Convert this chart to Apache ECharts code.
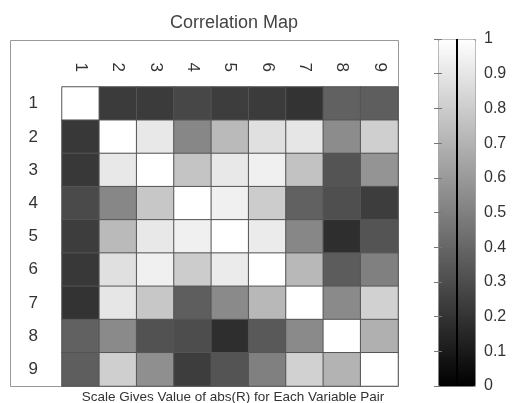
<!DOCTYPE html>
<html>
<head>
<meta charset="utf-8">
<script src="https://cdn.jsdelivr.net/npm/echarts@6/dist/echarts.min.js"></script>
<style>
  html, body { margin: 0; padding: 0; background: #fff; }
  #main { width: 512px; height: 403px; }
</style>
</head>
<body>
<div id="main"></div>
<script>
// variable labels
const vars = ['1', '2', '3', '4', '5', '6', '7', '8', '9'];
// abs(R) rows
const row1 = [1.00, 0.23, 0.23, 0.28, 0.24, 0.23, 0.20, 0.38, 0.37];
const row2 = [0.22, 1.00, 0.91, 0.53, 0.73, 0.88, 0.90, 0.55, 0.81];
const row3 = [0.22, 0.91, 1.00, 0.77, 0.91, 0.94, 0.76, 0.33, 0.58];
const row4 = [0.29, 0.53, 0.78, 1.00, 0.94, 0.80, 0.38, 0.31, 0.24];
const row5 = [0.24, 0.73, 0.91, 0.94, 1.00, 0.92, 0.53, 0.18, 0.33];
const row6 = [0.22, 0.88, 0.94, 0.80, 0.92, 1.00, 0.72, 0.36, 0.50];
const row7 = [0.20, 0.90, 0.78, 0.37, 0.54, 0.72, 1.00, 0.54, 0.82];
const row8 = [0.38, 0.54, 0.32, 0.30, 0.18, 0.35, 0.54, 1.00, 0.69];
const row9 = [0.37, 0.81, 0.56, 0.24, 0.33, 0.50, 0.82, 0.70, 1.00];
const rows = [row1, row2, row3, row4, row5, row6, row7, row8, row9];

const cells = [];
rows.forEach(function (r, i) {
  r.forEach(function (v, j) {
    cells.push([j, i, v]);
  });
});

const chart = echarts.init(document.getElementById('main'));
const font = 'Liberation Sans, Arial, sans-serif';

const option = {
  backgroundColor: '#fff',
  animation: false,
  textStyle: { fontFamily: font },
  title: [
    {
      text: 'Correlation Map',
      left: 229, top: 9, textAlign: 'center',
      textStyle: { fontSize: 18, fontWeight: 'normal', color: '#444', fontFamily: font }
    },
    {
      text: 'Scale Gives Value of abs(R) for Each Variable Pair',
      left: 228, top: 385, textAlign: 'center',
      textStyle: { fontSize: 13.5, fontWeight: 'normal', color: '#333', fontFamily: font }
    }
  ],
  graphic: [{
    type: 'rect', left: 10, top: 40, z: -10,
    shape: { width: 388, height: 346 },
    style: { fill: '#fff', stroke: '#999', lineWidth: 1 }
  }],
  grid: [
    { left: 62, top: 87, width: 336, height: 299 },
    { left: 438, top: 39, width: 37, height: 347 }
  ],
  xAxis: [
    {
      type: 'category', gridIndex: 0, data: vars, position: 'top',
      axisLine: { show: false }, axisTick: { show: false }, splitLine: { show: false },
      axisLabel: { rotate: 90, margin: 15, fontSize: 17, color: '#333' }
    },
    { type: 'value', gridIndex: 1, min: 0, max: 1, show: false }
  ],
  yAxis: [
    {
      type: 'category', gridIndex: 0, data: vars, inverse: true,
      axisLine: { show: false }, axisTick: { show: false }, splitLine: { show: false },
      axisLabel: { margin: 24, fontSize: 17, color: '#333' }
    },
    {
      type: 'value', gridIndex: 1, min: 0, max: 1, interval: 0.1, position: 'right', z: 10,
      axisLine: { show: false }, splitLine: { show: false },
      axisTick: { show: true, inside: true, length: 4, lineStyle: { color: '#777' } },
      axisLabel: { margin: 9, fontSize: 16, color: '#333' }
    },
    {
      type: 'value', gridIndex: 1, min: 0, max: 1, interval: 0.1, position: 'left', z: 10,
      axisLine: { show: false }, splitLine: { show: false },
      axisTick: { show: true, inside: true, length: 4, lineStyle: { color: '#777' } },
      axisLabel: { show: false }
    }
  ],
  visualMap: {
    type: 'continuous', min: 0, max: 1, seriesIndex: 0,
    orient: 'vertical', left: 438, top: 39,
    itemWidth: 37, itemHeight: 347, padding: 0,
    calculable: false, showLabel: false, text: null,
    borderColor: '#999', borderWidth: 1,
    inRange: { color: ['#000000', '#ffffff'] }
  },
  series: [
    {
      type: 'heatmap', xAxisIndex: 0, yAxisIndex: 0, data: cells,
      itemStyle: { borderColor: '#555', borderWidth: 1 },
      emphasis: { disabled: true }
    },
    {
      type: 'line', xAxisIndex: 1, yAxisIndex: 1, data: [], z: 10,
      markLine: {
        silent: true, symbol: 'none', label: { show: false },
        lineStyle: { color: '#000', width: 2, type: 'solid' },
        data: [{ xAxis: 0.5 }]
      }
    }
  ]
};

chart.setOption(option);
</script>
</body>
</html>
